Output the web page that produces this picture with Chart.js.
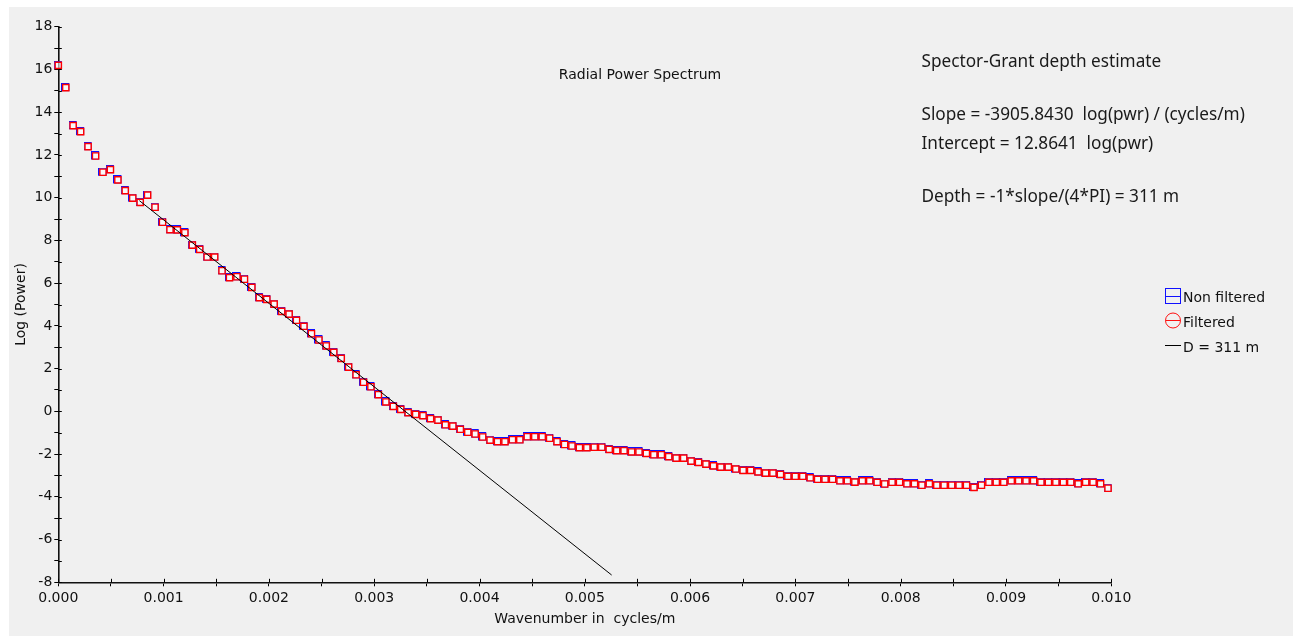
<!DOCTYPE html>
<html><head><meta charset="utf-8">
<script src="https://cdn.jsdelivr.net/npm/chart.js@4.4.1/dist/chart.umd.min.js"></script>
<style>html,body{margin:0;padding:0;background:#fff;overflow:hidden}canvas{display:block}</style>
</head><body>
<canvas id="c" width="1293" height="636"></canvas>
<script>
// ---- data ----
const wavenumbers = [
 0.000000,0.000071,0.000141,0.000212,0.000283,0.000354,0.000424,0.000495,0.000566,0.000636,
 0.000707,0.000778,0.000848,0.000919,0.000990,0.001061,0.001131,0.001202,0.001273,0.001343,
 0.001414,0.001485,0.001555,0.001626,0.001697,0.001768,0.001838,0.001909,0.001980,0.002050,
 0.002121,0.002192,0.002262,0.002333,0.002404,0.002475,0.002545,0.002616,0.002687,0.002757,
 0.002828,0.002899,0.002969,0.003040,0.003111,0.003182,0.003252,0.003323,0.003394,0.003464,
 0.003535,0.003606,0.003676,0.003747,0.003818,0.003889,0.003959,0.004030,0.004101,0.004171,
 0.004242,0.004313,0.004383,0.004454,0.004525,0.004596,0.004666,0.004737,0.004808,0.004878,
 0.004949,0.005020,0.005090,0.005161,0.005232,0.005303,0.005373,0.005444,0.005515,0.005585,
 0.005656,0.005727,0.005797,0.005868,0.005939,0.006010,0.006080,0.006151,0.006222,0.006292,
 0.006363,0.006434,0.006504,0.006575,0.006646,0.006717,0.006787,0.006858,0.006929,0.006999,
 0.007070,0.007141,0.007211,0.007282,0.007353,0.007424,0.007494,0.007565,0.007636,0.007706,
 0.007777,0.007848,0.007918,0.007989,0.008060,0.008131,0.008201,0.008272,0.008343,0.008413,
 0.008484,0.008555,0.008625,0.008696,0.008767,0.008838,0.008908,0.008979,0.009050,0.009120,
 0.009191,0.009262,0.009332,0.009403,0.009474,0.009545,0.009615,0.009686,0.009757,0.009827,
 0.009898,0.009969
];
const logPowerNonFiltered = [
 16.19,15.15,13.37,13.09,12.39,11.95,11.19,11.31,10.83,10.33,
 9.98,9.78,10.12,9.55,8.85,8.50,8.49,8.36,7.78,7.58,
 7.22,7.22,6.58,6.26,6.30,6.18,5.80,5.32,5.24,5.02,
 4.68,4.55,4.26,3.98,3.63,3.34,3.06,2.76,2.48,2.07,
 1.71,1.36,1.15,0.78,0.44,0.23,0.09,-0.06,-0.14,-0.20,
 -0.34,-0.41,-0.63,-0.69,-0.84,-0.98,-1.06,-1.20,-1.35,-1.42,
 -1.42,-1.33,-1.33,-1.19,-1.19,-1.19,-1.26,-1.42,-1.55,-1.62,
 -1.70,-1.70,-1.68,-1.68,-1.78,-1.84,-1.84,-1.90,-1.90,-1.97,
 -2.03,-2.03,-2.12,-2.19,-2.19,-2.33,-2.39,-2.47,-2.55,-2.61,
 -2.61,-2.70,-2.76,-2.76,-2.83,-2.89,-2.89,-2.95,-3.04,-3.04,
 -3.04,-3.11,-3.18,-3.18,-3.18,-3.25,-3.25,-3.31,-3.25,-3.25,
 -3.32,-3.40,-3.32,-3.32,-3.39,-3.39,-3.46,-3.39,-3.46,-3.46,
 -3.46,-3.46,-3.46,-3.56,-3.46,-3.32,-3.32,-3.32,-3.25,-3.25,
 -3.25,-3.25,-3.32,-3.32,-3.32,-3.32,-3.32,-3.39,-3.32,-3.32,
 -3.39,-3.60
];
// the filtered curve coincides with the non filtered one in the picture
const logPowerFiltered = logPowerNonFiltered;
const fitLineX = [0.00077, 0.005255];
const fitLineY = [9.86, -7.66];

const xMin = 0, xMax = 0.01, xStep = 0.0005;
const yMin = -8, yMax = 18, yStep = 1;

const chartTitle = 'Radial Power Spectrum';
const xAxisTitle = 'Wavenumber in  cycles/m';
const yAxisTitle = 'Log (Power)';
const infoLines = [
  'Spector-Grant depth estimate',
  'Slope = -3905.8430  log(pwr) / (cycles/m)',
  'Intercept = 12.8641  log(pwr)',
  'Depth = -1*slope/(4*PI) = 311 m'
];
const legendLabels = ['Non filtered', 'Filtered', 'D = 311 m'];

// ---- styling ----
const TICK_FONT = 'DejaVu Sans';
const INFO_FONT = 'Noto Sans';

const blueMark = document.createElement('canvas');
blueMark.width = 9; blueMark.height = 9;
(function(){ const b = blueMark.getContext('2d'); b.strokeStyle = '#1010ff'; b.lineWidth = 1; b.strokeRect(0.5, 0.5, 7, 7); })();

function pts(xs, ys){ return xs.map((x, i) => ({x: x, y: ys[i]})); }

const decorations = {
  id: 'decorations',
  beforeDraw(chart) {
    const ctx = chart.ctx;
    ctx.save();
    ctx.fillStyle = '#ffffff'; ctx.fillRect(0, 0, chart.width, chart.height);
    ctx.fillStyle = '#f0f0f0'; ctx.fillRect(9, 7, chart.width - 9, chart.height - 7);
    ctx.restore();
  },
  afterDraw(chart) {
    const ctx = chart.ctx;
    const xs = chart.scales.x, ys = chart.scales.y;
    ctx.save();
    // inner half of tick marks (ticks cross the axis lines)
    ctx.strokeStyle = '#000'; ctx.lineWidth = 1;
    ctx.beginPath();
    xs.ticks.forEach(t => { const p = Math.round(xs.getPixelForValue(t.value)) + 0.5; ctx.moveTo(p, xs.top); ctx.lineTo(p, xs.top - 3.5); });
    ys.ticks.forEach(t => { const p = Math.round(ys.getPixelForValue(t.value)) + 0.5; ctx.moveTo(ys.right, p); ctx.lineTo(ys.right + 3.5, p); });
    ctx.stroke();

    // plot title
    ctx.fillStyle = '#111';
    ctx.font = '14px "' + TICK_FONT + '"';
    ctx.textAlign = 'center'; ctx.textBaseline = 'middle';
    ctx.fillText(chartTitle, 640, 75);

    // depth estimate block
    ctx.font = '17.2px "' + INFO_FONT + '"';
    ctx.textAlign = 'left'; ctx.textBaseline = 'alphabetic';
    ctx.fillStyle = '#1a1a1a';
    const infoY = [67.3, 120, 149.3, 201.7];
    infoLines.forEach((s, i) => ctx.fillText(s, 921.5, infoY[i]));

    // legend
    ctx.lineWidth = 1;
    ctx.strokeStyle = '#1010ff';
    ctx.strokeRect(1165.5, 288.5, 15, 15);
    ctx.beginPath(); ctx.moveTo(1165.5, 296.5); ctx.lineTo(1180.5, 296.5); ctx.stroke();
    ctx.strokeStyle = '#ff1010';
    ctx.beginPath(); ctx.arc(1173, 320.5, 7.5, 0, Math.PI * 2); ctx.stroke();
    ctx.beginPath(); ctx.moveTo(1165.5, 320.5); ctx.lineTo(1180.5, 320.5); ctx.stroke();
    ctx.strokeStyle = '#000';
    ctx.beginPath(); ctx.moveTo(1165, 345.5); ctx.lineTo(1181, 345.5); ctx.stroke();
    ctx.fillStyle = '#111';
    ctx.font = '14px "' + TICK_FONT + '"';
    ctx.textBaseline = 'middle';
    const legY = [298.5, 323, 348];
    legendLabels.forEach((s, i) => ctx.fillText(s, 1183, legY[i]));
    ctx.restore();
  }
};

Chart.defaults.font.family = TICK_FONT;
Chart.defaults.font.size = 14;
Chart.defaults.color = '#111';

new Chart(document.getElementById('c'), {
  type: 'scatter',
  data: {
    datasets: [
      { label: legendLabels[2], type: 'line', data: pts(fitLineX, fitLineY), borderColor: '#000', borderWidth: 1,
        pointRadius: 0, fill: false, tension: 0, order: 0, clip: false },
      { label: legendLabels[1], data: pts(wavenumbers, logPowerFiltered), pointStyle: 'rect', pointRadius: 4.4,
        borderColor: '#ff0000', borderWidth: 1.4, backgroundColor: 'rgba(255,255,255,0.6)', order: 1, clip: false },
      { label: legendLabels[0], data: pts(wavenumbers, logPowerNonFiltered), pointStyle: blueMark, pointRadius: 4,
        borderColor: '#1010ff', backgroundColor: 'transparent', order: 2, clip: false }
    ]
  },
  options: {
    responsive: false,
    animation: false,
    layout: { padding: { top: 26.7, right: 181.7, bottom: 0, left: 0 } },
    plugins: { legend: { display: false }, tooltip: { enabled: false }, title: { display: false } },
    scales: {
      x: {
        type: 'linear', min: xMin, max: xMax,
        afterFit: s => { s.height = 53.7; },
        border: { display: true, color: '#111', width: 1.6 },
        grid: { drawOnChartArea: false, drawTicks: true, tickLength: 4, color: '#000' },
        ticks: { stepSize: xStep, autoSkip: false, maxRotation: 0, padding: 3.5,
          callback: v => (Math.round(v * 10000) % 2 === 0 ? v.toFixed(3) : '') },
        title: { display: true, text: xAxisTitle, padding: { top: 0, bottom: 8.2 }, font: { size: 14 } }
      },
      y: {
        type: 'linear', min: yMin, max: yMax,
        afterFit: s => { s.width = 58.3; },
        border: { display: true, color: '#111', width: 1.6 },
        grid: { drawOnChartArea: false, drawTicks: true, tickLength: 4, color: '#000' },
        ticks: { stepSize: yStep, autoSkip: false, padding: 2,
          callback: v => (Math.round(v) % 2 === 0 ? String(Math.round(v)) : '') },
        title: { display: true, text: yAxisTitle, padding: { top: 13.2, bottom: 0 }, font: { size: 14 } }
      }
    }
  },
  plugins: [decorations]
});
</script>
</body></html>
